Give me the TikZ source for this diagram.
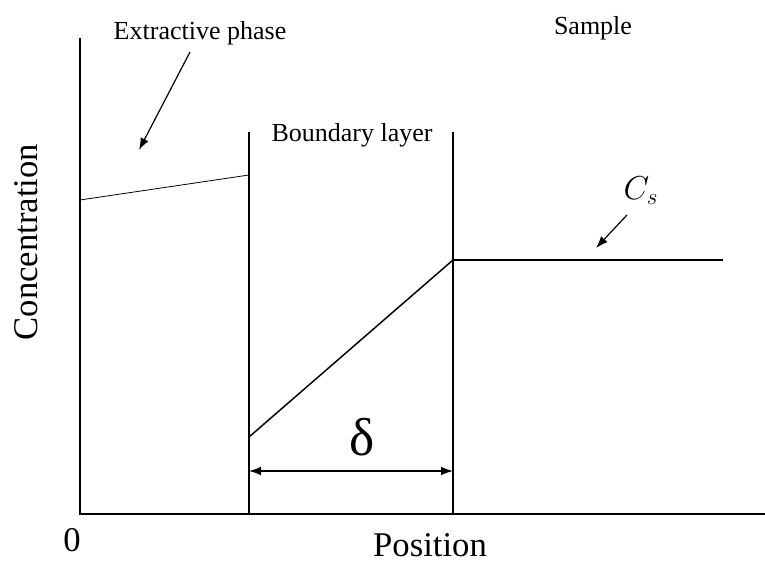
\documentclass[tikz,border=0pt]{standalone}
\usepackage{fontspec}
\setmainfont{Liberation Serif}
\usetikzlibrary{arrows.meta}
\tikzset{axisline/.style={line width=1.5pt}}
\tikzset{wall/.style={line width=1.1pt}}
\tikzset{pointer/.style={line width=0.9pt, ->}}
\tikzset{lbl/.style={inner sep=0pt, font=\fontsize{19.5}{22}\selectfont}}
\tikzset{axlbl/.style={inner sep=0pt, font=\fontsize{26}{30}\selectfont}}

\begin{document}
\begin{tikzpicture}[x=0.75pt,y=-0.75pt,>={Latex[length=9pt,width=6.5pt]}]
\useasboundingbox (0,0) rectangle (765,564);

% axes
\coordinate (o) at (80,514);
\coordinate (ytop) at (80,38);
\coordinate (xend) at (765,514);
\draw[axisline] (ytop) -- (o) -- (xend);

% boundary layer walls
\coordinate (w1) at (249,132); \coordinate (w1b) at (249,514);
\coordinate (w2) at (453,132); \coordinate (w2b) at (453,514);
\draw[wall] (w1) -- (w1b);
\draw[wall] (w2) -- (w2b);

% concentration profile
\coordinate (e0) at (80,200); \coordinate (e1) at (249,175);
\draw[line width=0.6pt] (e0) -- (e1);
\coordinate (b0) at (249,437); \coordinate (b1) at (453,260);
\draw[line width=1.1pt] (b0) -- (b1);
\coordinate (s1) at (723,260);
\draw[line width=1.8pt] (b1) -- (s1);

% labels
\node[lbl] (extr) at (200,33) {Extractive phase};
\node[lbl] (bl) at (352,135) {Boundary layer};
\node[lbl] (sample) at (593,28) {Sample};
\node[inner sep=0pt, font=\fontsize{25}{28}\selectfont] (cs) at (641,191) {$C_s$};
\node[inner sep=0pt, font=\fontsize{40}{44}\selectfont] (delta) at (362,437) {δ};
\node[axlbl, rotate=90] (conc) at (26,242) {Concentration};
\node[axlbl] (pos) at (430,545) {Position};
\node[axlbl] (zero) at (72,540) {0};

% pointers
\coordinate (extrtail) at (190,52); \coordinate (extrtip) at (139,150);
\draw[pointer] (extrtail) -- (extrtip);
\coordinate (cstail) at (627,215); \coordinate (cstip) at (596,248);
\draw[pointer] (cstail) -- (cstip);

% thickness delta
\coordinate (d0) at (249,471); \coordinate (d1) at (453,471);
\draw[line width=0.9pt, <->] (d0) -- (d1);

%\draw[dotted] (0,0) rectangle (765,564);
\end{tikzpicture}
\end{document}
